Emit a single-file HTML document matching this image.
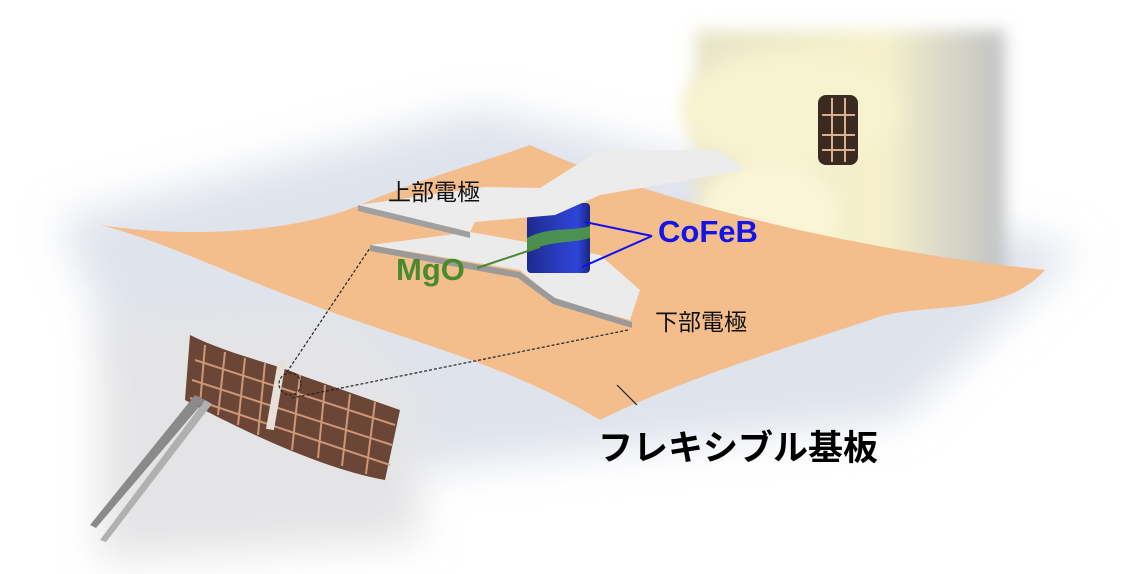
<!DOCTYPE html>
<html><head><meta charset="utf-8"><style>
html,body{margin:0;padding:0;background:#fff;}
body{width:1141px;height:574px;overflow:hidden;position:relative;font-family:"Liberation Sans","Noto Sans CJK JP",sans-serif;}
svg{position:absolute;left:0;top:0;}
.t{position:absolute;white-space:nowrap;}
</style></head><body>
<svg width="1141" height="574" viewBox="0 0 1141 574">
<defs>
<filter id="b20" x="-30%" y="-30%" width="160%" height="160%"><feGaussianBlur stdDeviation="20"/></filter>
<filter id="b8" x="-30%" y="-30%" width="160%" height="160%"><feGaussianBlur stdDeviation="8"/></filter>
<linearGradient id="cyl" x1="0" x2="1"><stop offset="0" stop-color="#1c2a8c"/><stop offset="0.5" stop-color="#2a3cc0"/><stop offset="0.8" stop-color="#2d45d8"/><stop offset="1" stop-color="#1a2680"/></linearGradient>
<linearGradient id="glove" x1="0" x2="1"><stop offset="0" stop-color="#e8e4c8"/><stop offset="0.6" stop-color="#f6f1cc"/><stop offset="1" stop-color="#c0c2c4"/></linearGradient>
</defs>
<path d="M60,220 L480,110 L1080,250 L900,420 L420,470 L120,360 Z" fill="#dfe3ec" filter="url(#b20)"/>
<rect x="695" y="30" width="310" height="260" fill="url(#glove)" filter="url(#b8)"/>
<ellipse cx="790" cy="110" rx="110" ry="60" fill="#f7f2cf" filter="url(#b8)"/>
<ellipse cx="770" cy="215" rx="70" ry="55" fill="#faf5d6" filter="url(#b8)"/>
<rect x="818" y="95" width="40" height="70" rx="8" fill="#3a2a20"/>
<g stroke="#d9b090" stroke-width="2"><line x1="822" y1="115" x2="855" y2="115"/><line x1="822" y1="135" x2="855" y2="135"/><line x1="822" y1="150" x2="855" y2="150"/><line x1="832" y1="98" x2="832" y2="162"/><line x1="845" y1="98" x2="845" y2="162"/></g>
<path d="M100,320 L340,310 L420,390 L420,540 L100,560 Z" fill="#e4e4e6" filter="url(#b20)"/>
<path d="M100,225 C200,240 300,230 360,205 C430,175 490,160 530,145 C650,200 850,250 1045,270 C1000,320 920,300 870,320 C780,350 680,380 600,420 C500,360 400,340 300,300 C220,270 160,240 100,225 Z" fill="#f4bd8c"/>
<path d="M190,335 C230,355 280,365 300,375 L400,410 L385,480 C330,470 260,440 185,400 Z" fill="#6b4535"/>
<g stroke="#d8a080" stroke-width="2" opacity="0.9">
<line x1="205" y1="345" x2="200" y2="405"/><line x1="225" y1="352" x2="218" y2="415"/><line x1="245" y1="358" x2="238" y2="425"/><line x1="265" y1="363" x2="258" y2="435"/><line x1="300" y1="375" x2="292" y2="450"/><line x1="325" y1="385" x2="318" y2="458"/><line x1="350" y1="394" x2="342" y2="466"/><line x1="375" y1="402" x2="366" y2="474"/>
<line x1="195" y1="360" x2="395" y2="425"/><line x1="192" y1="380" x2="392" y2="445"/><line x1="190" y1="398" x2="390" y2="465"/>
</g>
<rect x="272" y="360" width="8" height="70" fill="#e8e0d8" transform="rotate(10 276 395)"/>
<path d="M195,395 L90,525 L96,528 L205,400 Z" fill="#8a8a8a"/>
<path d="M205,400 L100,540 L106,542 L212,404 Z" fill="#b0b0b0"/>
<g stroke="#222" stroke-width="1.2" stroke-dasharray="3,2" fill="none">
<line x1="372" y1="245" x2="287" y2="372"/>
<line x1="628" y1="330" x2="292" y2="398"/>
<circle cx="290" cy="384" r="11"/>
</g>
<path d="M370,245 L470,232 L600,255 L640,290 L630,320 L555,300 L520,270 Z" fill="#ebebeb"/>
<path d="M370,245 L520,272 L555,298 L632,322 L632,328 L553,304 L518,278 L370,251 Z" fill="#9a9a9a"/>
<rect x="527" y="203" width="63" height="70" rx="4" fill="url(#cyl)"/>
<path d="M527,238 C550,226 570,232 590,226 L590,238 C570,244 550,240 527,252 Z" fill="#4f9a46" opacity="0.9"/>
<path d="M358,205 L485,187 L540,188 L600,150 L720,150 L745,170 L600,195 L555,215 L475,222 L470,232 Z" fill="#ececec"/>
<path d="M358,205 L470,232 L470,238 L358,211 Z" fill="#a0a0a0"/>
<line x1="477" y1="268" x2="540" y2="247" stroke="#4a8a30" stroke-width="2"/>
<line x1="585" y1="222" x2="652" y2="236" stroke="#1010ee" stroke-width="2"/>
<line x1="582" y1="267" x2="652" y2="236" stroke="#1010ee" stroke-width="2"/>
<line x1="617" y1="385" x2="637" y2="405" stroke="#222" stroke-width="1.2"/>
</svg>
<div class="t" style="left:388px;top:173px;font-size:23px;color:#111;">上部電極</div>
<div class="t" style="left:655px;top:303px;font-size:23px;color:#111;">下部電極</div>
<div class="t" style="left:396px;top:252px;font-size:31px;font-weight:bold;color:#4a8a2e;">MgO</div>
<div class="t" style="left:658px;top:214px;font-size:31px;font-weight:bold;color:#1414e6;">CoFeB</div>
<div class="t" style="left:598px;top:420px;font-size:35px;font-weight:bold;color:#000;">フレキシブル基板</div>
</body></html>
